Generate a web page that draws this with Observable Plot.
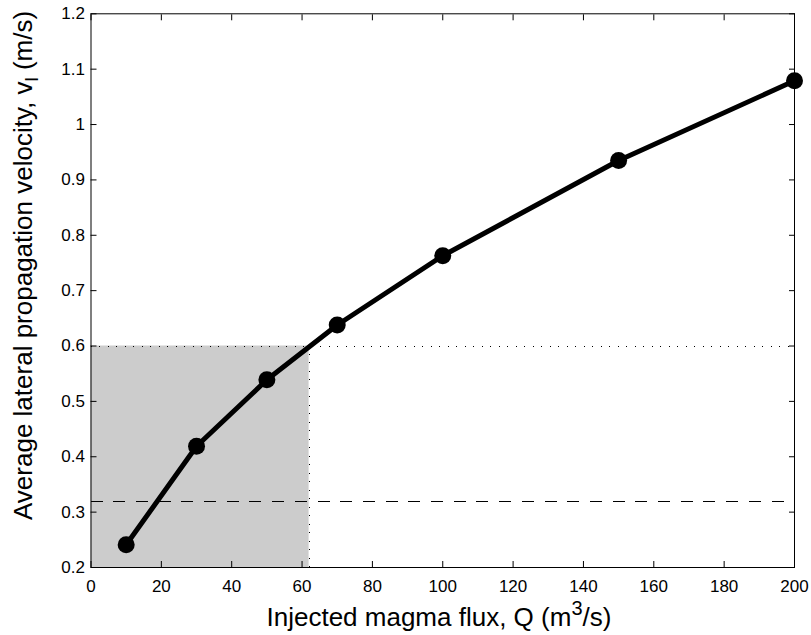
<!DOCTYPE html>
<html><head><meta charset="utf-8">
<script src="https://cdn.jsdelivr.net/npm/d3@7"></script>
<script src="https://cdn.jsdelivr.net/npm/@observablehq/plot@0.6"></script>
<style>
body{margin:0;background:#fff}
#chart svg{font-family:"Liberation Sans",Arial,Helvetica,sans-serif}
</style>
</head><body><div id="chart"></div>
<script>
// Data
const flux = [10, 30, 50, 70, 100, 150, 200];
const velocity = [0.241, 0.419, 0.539, 0.638, 0.763, 0.935, 1.079];
const xTicks = [0, 20, 40, 60, 80, 100, 120, 140, 160, 180, 200];
const xTickLabels = ["0", "20", "40", "60", "80", "100", "120", "140", "160", "180", "200"];
const yTicks = [0.2, 0.3, 0.4, 0.5, 0.6, 0.7, 0.8, 0.9, 1.0, 1.1, 1.2];
const yTickLabels = ["0.2", "0.3", "0.4", "0.5", "0.6", "0.7", "0.8", "0.9", "1", "1.1", "1.2"];
const shadeFlux = [0, 62];
const shadeVelocity = [0.2, 0.6];
const dottedVelocity = [0.6];
const dottedFlux = [62];
const dashedVelocity = [0.32];
const xDomain = [0, 200];
const yDomain = [0.2, 1.2];

const data = flux.map((q, i) => ({q, v: velocity[i]}));
const shade = [{x1: shadeFlux[0], x2: shadeFlux[1], y1: shadeVelocity[0], y2: shadeVelocity[1]}];

const plot = Plot.plot({
  width: 811,
  height: 635,
  marginLeft: 90.5,
  marginRight: 17,
  marginTop: 13.3,
  marginBottom: 68,
  style: {fontSize: "17px", fontFamily: '"Liberation Sans", Arial, sans-serif', color: "#000", background: "#fff"},
  x: {domain: xDomain, label: null},
  y: {domain: yDomain, label: null},
  marks: [
    Plot.rect(shade, {x1: "x1", x2: "x2", y1: "y1", y2: "y2", fill: "#cccccc"}),
    Plot.ruleY(dottedVelocity, {x1: xDomain[0], x2: xDomain[1], stroke: "#000", strokeWidth: 1, strokeDasharray: "1,7.5", shapeRendering: "crispEdges"}),
    Plot.ruleX(dottedFlux, {y1: shadeVelocity[0], y2: shadeVelocity[1], stroke: "#000", strokeWidth: 1, strokeDasharray: "1,7.5", shapeRendering: "crispEdges"}),
    Plot.ruleY(dashedVelocity, {x1: xDomain[0], x2: xDomain[1], stroke: "#000", strokeWidth: 1, strokeDasharray: "12,10.7", shapeRendering: "crispEdges"}),
    // inward ticks on all four sides
    Plot.axisX(xTicks, {anchor: "bottom", tickSize: 6, dy: -6, tickFormat: () => "", label: null, stroke: "#000"}),
    Plot.axisX(xTicks, {anchor: "top", tickSize: 6, dy: 6, tickFormat: () => "", label: null, stroke: "#000"}),
    Plot.axisY(yTicks, {anchor: "left", tickSize: 6, dx: 6, tickFormat: () => "", label: null, stroke: "#000"}),
    Plot.axisY(yTicks, {anchor: "right", tickSize: 6, dx: -6, tickFormat: () => "", label: null, stroke: "#000"}),
    // tick labels
    Plot.axisX(xTicks, {anchor: "bottom", tickSize: 0, tickPadding: 12, tickFormat: d => xTickLabels[xTicks.indexOf(d)], label: null, fill: "#000"}),
    Plot.axisY(yTicks, {anchor: "left", tickSize: 0, tickPadding: 6, tickFormat: d => yTickLabels[yTicks.indexOf(d)], label: null, fill: "#000"}),
    Plot.line(data, {x: "q", y: "v", stroke: "#000", strokeWidth: 5, strokeLinejoin: "round"}),
    Plot.dot(data, {x: "q", y: "v", r: 8.5, fill: "#000", stroke: null}),
    Plot.frame({stroke: "#000", strokeWidth: 1})
  ]
});

const svg = d3.select(plot);
const font = '"Liberation Sans", Arial, sans-serif';
// x axis label
const xl = svg.append("text")
  .attr("x", 266.5)
  .attr("y", 626)
  .attr("text-anchor", "start")
  .attr("font-size", 26)
  .attr("font-family", font)
  .attr("fill", "#000");
xl.append("tspan").text("Injected magma flux, Q (m");
xl.append("tspan").attr("font-size", 20).attr("dy", -11).text("3");
xl.append("tspan").attr("dy", 11).text("/s)");
// y axis label
const yl = svg.append("text")
  .attr("transform", "translate(32,520) rotate(-90)")
  .attr("text-anchor", "start")
  .attr("font-size", 26)
  .attr("font-family", font)
  .attr("fill", "#000");
yl.append("tspan").text("Average lateral propagation velocity, v");
yl.append("tspan").attr("font-size", 19).attr("dy", 6).text("l");
yl.append("tspan").attr("dy", -6).text(" (m/s)");

document.getElementById("chart").appendChild(plot);
</script>
</body></html>
